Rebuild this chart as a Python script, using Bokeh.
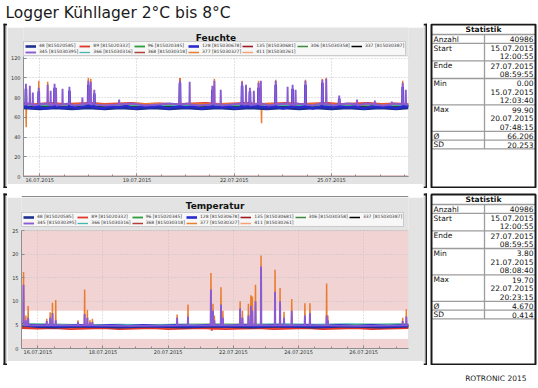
import pandas as pd
from bokeh.plotting import figure
from bokeh.layouts import column, row
from bokeh.models import (Range1d, FixedTicker, DatetimeTickFormatter, Legend,
                          LegendItem, BoxAnnotation, Label)
from bokeh.core.properties import value
from bokeh.embed import file_html
from bokeh.resources import INLINE

# ---------------------------------------------------------------- data
page_title = "Logger Kühllager 2°C bis 8°C"
footer_text = "ROTRONIC 2015"
chart_titles = ["Feuchte", "Temperatur"]
series_start = "2015-07-15 12:00:55"
series_end = "2015-07-27 08:59:55"

logger_ids = ["48", "89", "96", "128", "135", "306", "337", "345", "366", "368", "377", "411"]
logger_labels = ["48 [815020585]", "89 [815020332]", "96 [815020345]", "128 [815030678]",
                 "135 [815030681]", "306 [815030358]", "337 [815030387]", "345 [815030395]",
                 "366 [815030316]", "368 [815030318]", "377 [815030327]", "411 [815030261]"]
logger_colors = ["#1f2f8f", "#e2382c", "#2e9e3a", "#2a2ad0", "#9c1c22", "#3c8a3c",
                 "#000000", "#8b5bd2", "#44b6ae", "#b04038", "#e97c2e", "#f2a274"]

feuchte_y_ticks = [0, 20, 40, 60, 80, 100, 120]
feuchte_y_max = 122
temp_y_ticks = [0, 5, 10, 15, 20, 25]
temp_y_max = 25
feuchte_x_ticks = ["2015-07-16", "2015-07-19", "2015-07-22", "2015-07-25"]
temp_x_ticks = ["2015-07-16", "2015-07-18", "2015-07-20", "2015-07-22", "2015-07-24", "2015-07-26"]
temp_limits = [2, 8]

stat_labels = ["Anzahl", "Start", "Ende", "Min", "Max", "Ø", "SD"]
feuchte_stats = [["40986"], ["15.07.2015", "12:00:55"], ["27.07.2015", "08:59:55"],
                 ["0.00", "15.07.2015", "12:03:40"], ["99.90", "20.07.2015", "07:48:15"],
                 ["66.206"], ["20.253"]]
temp_stats = [["40986"], ["15.07.2015", "12:00:55"], ["27.07.2015", "08:59:55"],
              ["3.80", "21.07.2015", "08:08:40"], ["19.70", "22.07.2015", "20:23:15"],
              ["4.670"], ["0.414"]]

# series: (hours after start, value)
feuchte_48 = [(0,69.5),(12,68.5),(24,69.5),(36,68.5),(48,69.5),(60,68.5),(72,69.5),(84,68.5),(96,69.5),
              (108,68.5),(120,69.5),(132,68.5),(144,69.5),(156,68.5),(168,69.5),(180,68.5),(192,69.5),
              (204,68.5),(216,69.5),(228,68.5),(240,69.5),(252,68.5),(264,69.5),(276,68.5),(285,69.5)]
feuchte_89 = [(0,74),(10,73.5),(20,74.5),(30,73.5),(40,74),(50,74.5),(60,73.5),(70,74),(80,74.5),
              (90,73.5),(100,74),(110,73.5),(115.6,73.5),(115.8,99.9),(116.0,73.5),(125,74),(135,74.5),
              (145,73.5),(155,74),(165,74.5),(175,73.5),(185,74),(195,74.5),(205,73.5),(215,74),
              (225,74.5),(235,73.5),(245,74),(255,74.5),(265,73.5),(275,74),(285,73.5)]
feuchte_96 = [(0,72),(24,71.5),(48,72),(72,71.5),(96,72),(120,71.5),(144,72),(168,71.5),(192,72),
              (216,71.5),(240,72),(264,71.5),(285,72)]
feuchte_128 = [(0,71.5),(1.6,71.5),(1.8,89),(2.0,70.5),(6,69.5),(11.1,70.5),(11.3,86),(11.5,70.5),
               (16,69),(22.8,70.5),(23.0,90),(23.2,71.5),(28,69.5),(33.8,70.5),(34.0,87),(34.2,70.5),
               (40,69.5),(47.8,71.5),(48.0,93),(48.2,71.5),(52.2,70.5),(52.4,84),(52.6,70.5),(58,69),
               (64,71),(70,70),(76,71.5),(82,69),(88,71),(94,70),(100,71.5),(106,69),(115.6,71),
               (115.8,95),(116.0,71),(120,70),(126,71),(132,69),(139.6,71),(139.8,88),(140.0,71),
               (146,70),(152,71),(158,69),(161.6,71),(161.8,92),(162.0,71),(167.4,71),(167.6,86),
               (167.8,71),(173.8,71),(174.0,90),(174.2,71),(180,70),(186.5,71),(186.7,93),(186.9,71),
               (192,69),(199.0,71),(199.2,89),(199.4,71),(204,70),(208.5,71),(208.7,93),(208.9,71),
               (214,69),(221.0,71),(221.2,95),(221.4,71),(228,70),(233.5,71),(233.7,79),(233.9,71),
               (240,70),(246,71),(252,69),(258,71),(264,70),(270,71),(276,69),(280.5,71),(280.7,91),
               (280.9,71),(285,71)]
feuchte_135 = [(0,0),(285,0)]
feuchte_306 = [(0,71.5),(48,72),(96,71.5),(144,72),(192,71.5),(240,72),(285,71.5)]
feuchte_337 = [(0,71),(60,71.5),(120,71),(180,71.5),(240,71),(285,71.5)]
feuchte_345 = [(0,73),(1.6,73),(1.8,94),(2.0,73),(4.5,74),(4.7,92),(4.9,73),(6.7,72),(6.9,85),(7.1,72),
               (11.1,73),(11.3,90),(11.5,73),(17.7,74),(17.9,93),(18.1,73),(19.9,72),(20.1,87),(20.3,72),
               (22.8,73),(23.0,94),(23.2,74),(23.9,73),(24.1,90),(24.3,72),(28.7,73),(28.9,89),(29.1,73),
               (33.8,74),(34.0,91),(34.2,73),(38,72),(43.4,73),(43.6,80),(43.8,73),(47.8,74),(48.0,97),
               (48.2,74),(49.6,73),(49.8,96),(50.0,73),(52.2,74),(52.4,88),(52.6,73),(60,72),(70.6,73),
               (70.8,78),(71.0,73),(80,74),(90,72),(100,73),(108,74),(115.6,73),(115.8,97),(116.0,73),
               (122.8,74),(123.0,96),(123.2,73),(130,72),(139.6,73),(139.8,92),(140.0,73),(141.1,74),
               (141.3,97),(141.5,73),(145.8,73),(146.0,88),(146.2,72),(154,73),(161.6,74),(161.8,96),
               (162.0,73),(164.5,73),(164.7,93),(164.9,74),(167.4,73),(167.6,90),(167.8,72),(170.3,73),
               (170.5,87),(170.7,73),(173.8,74),(174.0,95),(174.2,73),(175.5,73),(175.7,97),(175.9,74),
               (181,72),(186.5,73),(186.7,97),(186.9,73),(195.3,74),(195.5,91),(195.7,73),(199.0,73),
               (199.2,93),(199.4,72),(201.2,73),(201.4,88),(201.6,74),(208.5,73),(208.7,97),(208.9,73),
               (214,72),(221.0,74),(221.2,98),(221.4,73),(223.9,73),(224.1,99),(224.3,74),(229,72),
               (233.5,73),(233.7,82),(233.9,73),(240,74),(246.7,73),(246.9,78),(247.1,72),(254,74),
               (259.9,73),(260.1,77),(260.3,73),(266,72),(272.4,73),(272.6,76),(272.8,74),(280.5,73),
               (280.7,95),(280.9,73),(282.8,74),(283.0,88),(283.2,73),(285,73)]
feuchte_366 = [(0,72),(48,72.5),(96,72),(144,72.5),(192,72),(240,72.5),(285,72)]
feuchte_368 = [(0,71.5),(72,71),(144,71.5),(216,71),(285,71.5)]
feuchte_377 = [(0,73.5),(1.8,73.5),(2.0,50),(2.2,73.5),(11.1,73.5),(11.3,97),(11.5,73.5),(17.7,73.5),
               (17.9,96),(18.1,73.5),(30,73),(47.8,73.5),(48.0,100),(48.2,73.5),(49.6,73.5),(49.8,99),
               (50.0,73.5),(70,73),(100,74),(115.6,73.5),(115.8,99.5),(116.0,73.5),(141.1,73.5),
               (141.3,99),(141.5,73.5),(161.6,73.5),(161.8,97),(162.0,73.5),(173.8,73.5),(174.0,97),
               (174.2,73.5),(176.0,73.5),(176.2,54),(176.4,73.5),(186.5,73.5),(186.7,98),(186.9,73.5),
               (208.5,73.5),(208.7,98),(208.9,73.5),(221.0,73.5),(221.2,99),(221.4,73.5),(223.9,73.5),
               (224.1,100),(224.3,73.5),(250,73),(280.5,73.5),(280.7,97),(280.9,73.5),(285,73.5)]
feuchte_411 = [(0,72.5),(72,73),(144,72.5),(216,73),(285,72.5)]

temp_48 = [(0,5.0),(12,4.6),(24,4.5),(36,4.6),(48,4.7),(60,4.6),(72,4.5),(84,4.6),(96,4.7),(108,4.6),
           (120,4.5),(132,4.6),(144,4.7),(156,4.6),(168,4.5),(180,4.6),(192,4.7),(204,4.6),(216,4.5),
           (228,4.6),(240,4.7),(252,4.6),(264,4.5),(276,4.6),(285,4.7)]
temp_89 = [(0,4.3),(12,4.2),(24,4.3),(36,4.1),(48,4.2),(60,4.3),(72,4.1),(84,4.2),(96,4.3),(108,4.1),
           (120,4.2),(132,4.3),(139.9,4.2),(140.1,3.8),(140.3,4.2),(150,4.1),(162,4.2),(174,4.3),
           (186,4.1),(198,4.2),(210,4.3),(222,4.1),(234,4.2),(246,4.3),(258,4.1),(270,4.2),(285,4.3)]
temp_96 = [(0,5.1),(48,5.0),(96,5.0),(144,5.1),(192,5.0),(240,5.0),(285,5.1)]
temp_128 = [(0,5.2),(6,4.9),(12,4.8),(18,4.9),(24,4.8),(30,4.7),(36,4.8),(42,4.9),(48,4.8),(54,4.7),
            (60,4.8),(66,4.9),(72,4.8),(78,4.7),(84,4.8),(90,4.9),(96,4.8),(102,4.7),(108,4.8),
            (114,4.9),(120,4.8),(126,4.7),(132,4.8),(138,4.9),(144,4.8),(150,4.7),(156,4.8),(162,4.9),
            (168,4.8),(174,4.7),(180,4.8),(186,4.9),(192,4.8),(198,4.7),(204,4.8),(210,4.9),(216,4.8),
            (222,4.7),(228,4.8),(234,4.9),(240,4.8),(246,4.7),(252,4.8),(258,4.9),(264,4.8),(270,4.7),
            (276,4.8),(285,4.9)]
temp_135 = [(0,4.5),(60,4.4),(120,4.4),(180,4.5),(240,4.4),(285,4.4)]
temp_306 = [(0,4.9),(72,4.9),(144,5.0),(216,4.9),(285,4.9)]
temp_337 = [(0,4.8),(72,4.8),(144,4.7),(216,4.8),(285,4.8)]
temp_345 = [(0,5.0),(1.3,5.0),(1.5,13.5),(1.7,5.0),(3.0,4.9),(3.2,6.0),(3.4,4.9),(4.7,4.9),(4.9,6.5),
            (5.1,4.9),(18.4,4.9),(18.6,5.8),(18.8,4.9),(20.9,4.9),(21.1,6.5),(21.3,4.9),(22.6,4.9),
            (22.8,7.5),(23.0,4.9),(25.0,4.9),(25.2,6.0),(25.4,4.9),(41.4,4.9),(41.6,5.6),(41.8,4.9),
            (46.3,4.9),(46.5,7.3),(46.7,4.9),(48.3,4.9),(48.5,6.5),(48.7,4.9),(50.2,4.9),(50.4,5.5),
            (50.6,4.9),(52.0,4.9),(52.2,5.6),(52.4,4.9),(80,4.8),(114.4,4.9),(114.6,6.5),(114.8,4.9),
            (122.4,4.9),(122.6,6.7),(122.8,4.9),(139.3,4.9),(139.5,12.5),(139.7,4.9),(140.8,4.9),
            (141.0,8.0),(141.2,4.9),(141.8,4.9),(142.0,6.0),(142.2,4.9),(146.7,4.9),(146.9,9.3),
            (147.1,4.9),(148.1,4.9),(148.3,6.5),(148.5,4.9),(160.8,4.9),(161.0,8.5),(161.2,4.9),
            (162.5,4.9),(162.7,6.5),(162.9,4.9),(166.9,4.9),(167.1,7.0),(167.3,4.9),(168.7,4.9),
            (168.9,9.0),(169.1,4.9),(169.8,4.9),(170.0,8.0),(170.2,4.9),(172.1,4.9),(172.3,10.0),
            (172.5,4.9),(176.2,4.9),(176.4,17.4),(176.6,4.9),(186.5,4.9),(186.7,12.0),(186.9,4.9),
            (190.2,4.9),(190.4,10.0),(190.6,4.9),(193.1,4.9),(193.3,6.5),(193.5,4.9),(198.8,4.9),
            (199.0,8.0),(199.2,4.9),(208.5,4.9),(208.7,7.0),(208.9,4.9),(212.2,4.9),(212.4,7.5),
            (212.6,4.9),(224.5,4.9),(224.7,7.0),(224.9,4.9),(225.4,4.9),(225.6,6.0),(225.8,4.9),
            (250,4.8),(280.5,4.9),(280.7,5.8),(280.9,4.9),(283.2,4.9),(283.4,6.8),(283.6,4.9),(285,4.9)]
temp_366 = [(0,5.2),(24,5.1),(48,5.0),(72,5.1),(96,5.0),(120,5.1),(144,5.0),(168,5.1),(192,5.2),
            (216,5.1),(240,5.2),(264,5.1),(285,5.2)]
temp_368 = [(0,4.5),(72,4.4),(144,4.5),(216,4.4),(285,4.5)]
temp_377 = [(0,4.8),(1.3,4.8),(1.5,16.2),(1.7,4.8),(3.0,4.7),(3.2,7.0),(3.4,4.7),(4.7,4.7),(4.9,9.0),
            (5.1,4.7),(12,4.6),(18.4,4.7),(18.6,6.3),(18.8,4.7),(20.9,4.7),(21.1,7.7),(21.3,4.7),
            (22.6,4.7),(22.8,9.7),(23.0,4.7),(25.0,4.7),(25.2,10.3),(25.4,4.7),(33,4.6),(41.4,4.7),
            (41.6,6.0),(41.8,4.7),(46.3,4.7),(46.5,12.5),(46.7,4.7),(48.3,4.7),(48.5,8.2),(48.7,4.7),
            (50.2,4.7),(50.4,6.0),(50.6,4.7),(52.0,4.7),(52.2,6.3),(52.4,4.7),(70,4.6),(90,4.7),
            (114.4,4.7),(114.6,7.2),(114.8,4.7),(122.4,4.7),(122.6,9.3),(122.8,4.7),(130,4.6),
            (139.3,4.7),(139.5,16.0),(139.7,4.7),(140.8,4.7),(141.0,9.5),(141.2,4.7),(141.8,4.7),
            (142.0,7.0),(142.2,4.7),(146.7,4.7),(146.9,13.0),(147.1,4.7),(148.1,4.7),(148.3,8.0),
            (148.5,4.7),(155,4.6),(160.8,4.7),(161.0,10.0),(161.2,4.7),(162.5,4.7),(162.7,8.0),
            (162.9,4.7),(166.9,4.7),(167.1,9.5),(167.3,4.7),(168.7,4.7),(168.9,11.3),(169.1,4.7),
            (169.8,4.7),(170.0,11.0),(170.2,4.7),(172.1,4.7),(172.3,13.5),(172.5,4.7),(176.2,4.7),
            (176.4,19.7),(176.6,4.7),(186.5,4.7),(186.7,16.7),(186.9,4.7),(190.2,4.7),(190.4,12.8),
            (190.6,4.7),(193.1,4.7),(193.3,7.8),(193.5,4.7),(198.8,4.7),(199.0,10.5),(199.2,4.7),
            (208.5,4.7),(208.7,9.6),(208.9,4.7),(212.2,4.7),(212.4,9.6),(212.6,4.7),(224.5,4.7),
            (224.7,13.8),(224.9,4.7),(225.4,4.7),(225.6,7.0),(225.8,4.7),(240,4.6),(260,4.7),
            (280.5,4.7),(280.7,6.5),(280.9,4.7),(283.2,4.7),(283.4,8.3),(283.6,4.7),(285,4.7)]
temp_411 = [(0,4.9),(72,5.0),(144,4.9),(216,5.0),(285,4.9)]

feuchte_series = [feuchte_48, feuchte_89, feuchte_96, feuchte_128, feuchte_135, feuchte_306,
                  feuchte_337, feuchte_345, feuchte_366, feuchte_368, feuchte_377, feuchte_411]
temp_series = [temp_48, temp_89, temp_96, temp_128, temp_135, temp_306,
               temp_337, temp_345, temp_366, temp_368, temp_377, temp_411]

# ---------------------------------------------------------------- helpers
t0 = pd.Timestamp(series_start)
t1 = pd.Timestamp(series_end)
draw_order = ["135", "411", "368", "306", "337", "96", "366", "89", "377", "48", "128", "345"]
line_widths = {"135": 1.6, "411": 1.5, "368": 1.5, "306": 1.5, "337": 1.5, "96": 1.8, "366": 1.3,
               "89": 1.8, "48": 2.6, "377": 1.5, "128": 2.6, "345": 1.9}
FONT = "DejaVu Sans"
PANEL_GREY = "#e3e3e3"


def to_ms(d):
    return pd.Timestamp(d).value / 1e6


def to_xy(pairs):
    hrs = [a for a, _ in pairs]
    vals = [b for _, b in pairs]
    xs = (t0 + pd.to_timedelta(hrs, unit="h")).values
    return xs, vals


def blank_fig(W, H):
    p = figure(width=W, height=H, x_range=Range1d(0, W), y_range=Range1d(H, 0),
               output_backend="svg", toolbar_location=None, min_border=0,
               x_axis_location=None, y_axis_location=None)
    p.grid.visible = False
    p.outline_line_color = None
    p.background_fill_color = "white"
    p.border_fill_color = "white"
    return p


def make_strip(W, H, rects):
    p = blank_fig(W, H)
    p.quad(left=[r[0] for r in rects], right=[r[1] for r in rects],
           top=[r[2] for r in rects], bottom=[r[3] for r in rects],
           fill_color=[r[4] for r in rects], line_color=None)
    return p


def make_chart(name, W, H, mb, y_top, y_max, y_ticks, x_ticks, minor_start, minor_freq,
               series, title_y, legend_y, limits=None):
    FL, FR, FT, FBm = mb
    p = figure(width=W, height=H, x_axis_type="datetime", x_range=Range1d(t0, t1),
               y_range=Range1d(0, y_top), output_backend="svg", toolbar_location=None,
               min_border_left=FL, min_border_right=FR, min_border_top=FT, min_border_bottom=FBm)
    p.border_fill_color = PANEL_GREY
    p.background_fill_color = PANEL_GREY
    p.outline_line_color = None

    # white plot area
    p.add_layout(BoxAnnotation(bottom=0, top=y_max, fill_color="white", fill_alpha=1.0,
                               line_color=None, level="image"))
    if limits is not None:
        for kw in (dict(bottom=0, top=limits[0]), dict(bottom=limits[1], top=y_max)):
            p.add_layout(BoxAnnotation(fill_color="#f1d3d3", fill_alpha=1.0, line_color=None,
                                       level="image", **kw))

    minor = [d.value / 1e6 for d in pd.date_range(minor_start, "2015-07-27 12:00", freq=minor_freq)]
    p.xaxis[0].ticker = FixedTicker(ticks=[to_ms(d) for d in x_ticks], minor_ticks=minor)
    p.xaxis[0].formatter = DatetimeTickFormatter(days="%d.%m.%Y", months="%d.%m.%Y", years="%d.%m.%Y",
                                                 hours="%d.%m.%Y", hourmin="%d.%m.%Y")
    p.yaxis[0].ticker = FixedTicker(ticks=y_ticks)
    p.yaxis[0].bounds = (0, y_max)
    for a in (p.xaxis[0], p.yaxis[0]):
        a.major_label_text_font = FONT
        a.major_label_text_font_size = "5px"
        a.major_label_text_color = "#333333"
        a.axis_line_color = "#8a8a8a"
        a.major_tick_line_color = "#8a8a8a"
        a.minor_tick_line_color = "#8a8a8a"
        a.major_tick_in = 3
        a.major_tick_out = 0
        a.minor_tick_in = 2
        a.minor_tick_out = 0
    p.xaxis[0].major_label_standoff = 1
    p.yaxis[0].major_label_standoff = 3
    p.grid.grid_line_color = "#c4c4c4"
    p.grid.grid_line_dash = "1 2"
    p.xgrid.cross_bounds = (0, y_max)

    rmap = {}
    idx = {k: i for i, k in enumerate(logger_ids)}
    for k in draw_order:
        i = idx[k]
        xs, ys = to_xy(series[i])
        rmap[k] = p.line(xs, ys, line_color=logger_colors[i], line_width=line_widths[k])

    # plot area outline
    p.add_layout(BoxAnnotation(bottom=0, top=y_max, fill_color=None, fill_alpha=0,
                               line_color="#a8a8a8", line_width=1, level="overlay"))

    items = [LegendItem(label=lbl, renderers=[rmap[k]]) for k, lbl in zip(logger_ids, logger_labels)]
    leg = Legend(items=items, location=(0, legend_y), orientation="horizontal", ncols=7,
                 glyph_width=11, glyph_height=4, label_height=4, label_width=38,
                 label_standoff=3, spacing=1, padding=1, margin=0,
                 label_text_font=FONT, label_text_font_size="4.5px",
                 label_text_color="#333333", border_line_color="#a0a0a0",
                 background_fill_color="#f7f7f7", background_fill_alpha=1.0)
    p.add_layout(leg, "center")

    mid = (to_ms(t0) + to_ms(t1)) / 2
    p.add_layout(Label(x=mid, y=title_y, text=name, text_align="center", text_baseline="middle",
                       text_font=FONT, text_font_size="9px", text_font_style="bold",
                       text_color="#111111"))
    return p


def make_table(W, H, y0, y1, stats):
    p = blank_fig(W, H)
    x0, x1 = 4, W - 3
    xdiv = x0 + 53
    lh = 8.8
    head_sep = y0 + 11
    p.text([(x0 + x1) / 2], [y0 + 6], text=["Statistik"], text_align="center",
           text_baseline="middle", text_font=value(FONT), text_font_size=value("7.5px"),
           text_font_style="bold", text_color="#111111")
    seg_y = [head_sep]
    lab_x, lab_y, lab_t = [], [], []
    val_x, val_y, val_t = [], [], []
    top = head_sep
    for lab, vals in zip(stat_labels, stats):
        lab_x.append(x0 + 2); lab_y.append(top + lh / 2 + 0.3); lab_t.append(lab)
        for j, v in enumerate(vals):
            val_x.append(x1 - 2); val_y.append(top + lh / 2 + 0.3 + j * lh); val_t.append(v)
        top = top + lh * len(vals)
        seg_y.append(top)
    p.segment(x0=[x0] * len(seg_y), x1=[x1] * len(seg_y), y0=seg_y, y1=seg_y,
              line_color="#9c9c9c", line_width=1.3)
    p.segment(x0=[xdiv], x1=[xdiv], y0=[head_sep], y1=[seg_y[-1]], line_color="#9c9c9c",
              line_width=1.3)
    p.text(lab_x, lab_y, text=lab_t, text_align="left", text_baseline="middle",
           text_font=value(FONT), text_font_size=value("7.5px"), text_color="#111111")
    p.text(val_x, val_y, text=val_t, text_align="right", text_baseline="middle",
           text_font=value(FONT), text_font_size=value("7.5px"), text_color="#111111")
    p.quad(left=[x0], right=[x1], top=[y0 + 1], bottom=[y1 - 1], fill_color=None,
           line_color="#1a1a1a", line_width=2)
    return p


def panel_row(chart, table, H, top_white):
    K, W, E = "#1a1a1a", "white", "#a6a6a6"
    cw = chart.width
    b = top_white
    left = make_strip(7, H, [(3, 5, b, H, K), (3, 7, b, b + 2, K), (3, 7, H - 2, H, K),
                             (6, 7, b + 3, H - 3, E)])
    right = make_strip(4, H, [(2, 4, b, H, K), (0, 4, b, b + 2, K), (0, 4, H - 2, H, K),
                              (0, 1, b + 3, H - 3, E)])
    top = make_strip(cw, b + 4, [(0, cw, b, b + 2, K), (0, cw, b + 3, b + 4, E)])
    bottom = make_strip(cw, 4, [(0, cw, 0, 1, E), (0, cw, 2, 4, K)])
    return row(left, column(top, chart, bottom), right, table)


# ---------------------------------------------------------------- build
title_fig = blank_fig(538, 23)
title_fig.text([5], [12.5], text=[page_title], text_align="left", text_baseline="middle",
               text_font=value(FONT), text_font_size=value("15.5px"), text_color="#1a1a1a")

# Feuchte: chart 416x157 (page y 27..184), plot 0..122 -> page 176..56
chart1 = make_chart(chart_titles[0], 416, 157, (14, 15, 0, 8), 151, feuchte_y_max, feuchte_y_ticks,
                    feuchte_x_ticks, "2015-07-15 06:00", "18h", feuchte_series,
                    title_y=140, legend_y=120)
table1 = make_table(111, 165, 0, 165, feuchte_stats)
row1 = panel_row(chart1, table1, 165, 0)

# Temperatur: chart 416x164 (page y 197..361), plot 0..25 -> page 348..230
chart2 = make_chart(chart_titles[1], 416, 164, (14, 15, 0, 13), 32, temp_y_max, temp_y_ticks,
                    temp_x_ticks, "2015-07-15 12:00", "12h", temp_series,
                    title_y=30.3, legend_y=121, limits=temp_limits)
table2 = make_table(111, 177, 5, 177, temp_stats)
row2 = panel_row(chart2, table2, 177, 5)

footer_fig = blank_fig(538, 22)
footer_fig.text([526], [13], text=[footer_text], text_align="right", text_baseline="middle",
                text_font=value(FONT), text_font_size=value("7.5px"), text_color="#1a1a1a")

layout = column(title_fig, row1, row2, footer_fig)

with open("out.html", "w") as f:
    f.write(file_html(layout, INLINE))
